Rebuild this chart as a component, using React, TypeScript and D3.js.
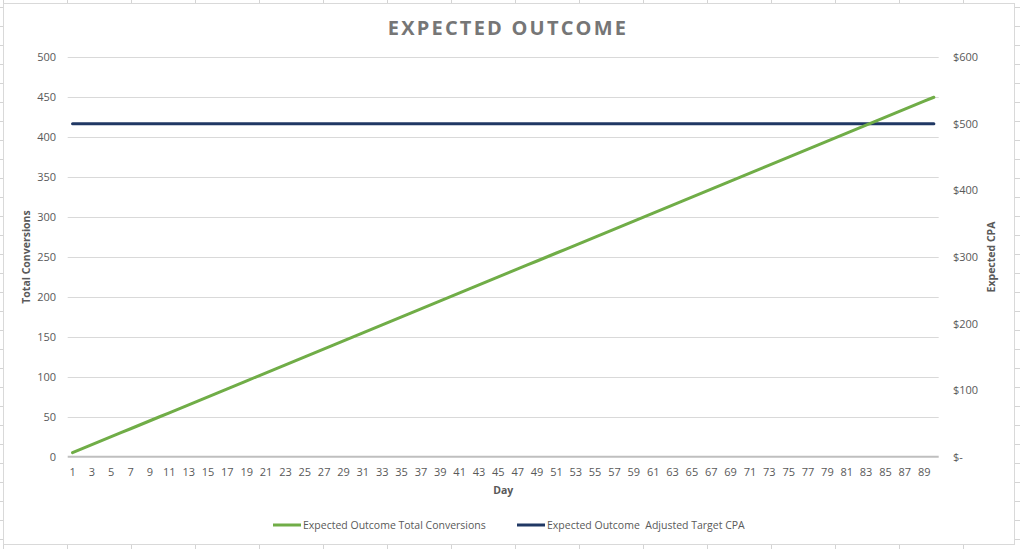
import * as d3 from "d3";
import { useRef, useEffect } from "react";

// Tage 1..90
const days = [
  1, 2, 3, 4, 5, 6, 7, 8, 9, 10, 11, 12, 13, 14, 15, 16, 17, 18, 19, 20,
  21, 22, 23, 24, 25, 26, 27, 28, 29, 30, 31, 32, 33, 34, 35, 36, 37, 38, 39, 40,
  41, 42, 43, 44, 45, 46, 47, 48, 49, 50, 51, 52, 53, 54, 55, 56, 57, 58, 59, 60,
  61, 62, 63, 64, 65, 66, 67, 68, 69, 70, 71, 72, 73, 74, 75, 76, 77, 78, 79, 80,
  81, 82, 83, 84, 85, 86, 87, 88, 89, 90,
];

const totalConversions = [
  5, 10, 15, 20, 25, 30, 35, 40, 45, 50, 55, 60, 65, 70, 75, 80, 85, 90, 95, 100,
  105, 110, 115, 120, 125, 130, 135, 140, 145, 150, 155, 160, 165, 170, 175, 180, 185, 190, 195, 200,
  205, 210, 215, 220, 225, 230, 235, 240, 245, 250, 255, 260, 265, 270, 275, 280, 285, 290, 295, 300,
  305, 310, 315, 320, 325, 330, 335, 340, 345, 350, 355, 360, 365, 370, 375, 380, 385, 390, 395, 400,
  405, 410, 415, 420, 425, 430, 435, 440, 445, 450,
];

const targetCpa = [
  500, 500, 500, 500, 500, 500, 500, 500, 500, 500, 500, 500, 500, 500, 500, 500, 500, 500, 500, 500,
  500, 500, 500, 500, 500, 500, 500, 500, 500, 500, 500, 500, 500, 500, 500, 500, 500, 500, 500, 500,
  500, 500, 500, 500, 500, 500, 500, 500, 500, 500, 500, 500, 500, 500, 500, 500, 500, 500, 500, 500,
  500, 500, 500, 500, 500, 500, 500, 500, 500, 500, 500, 500, 500, 500, 500, 500, 500, 500, 500, 500,
  500, 500, 500, 500, 500, 500, 500, 500, 500, 500,
];

const leftTicks = [0, 50, 100, 150, 200, 250, 300, 350, 400, 450, 500];
const rightTicks = [0, 100, 200, 300, 400, 500, 600];
const seriesNames = ["Expected Outcome Total Conversions", "Expected Outcome  Adjusted Target CPA"];

export default function App() {
  const svgRef = useRef<SVGSVGElement | null>(null);

  useEffect(() => {
    if (!svgRef.current) return;
    const W = 1020, H = 549;
    const font = "'Open Sans', sans-serif";
    const textCol = "#595959";

    const svg = d3.select(svgRef.current);
    svg.selectAll("*").remove();
    svg.attr("width", W).attr("height", H).style("font-family", font);

    // Excel-Zellraster im Hintergrund
    const bg = svg.append("g").attr("stroke", "#d4d4d4").attr("stroke-width", 1);
    for (let x = 3.5; x < W; x += 64) bg.append("line").attr("x1", x).attr("x2", x).attr("y1", 0).attr("y2", H);
    for (let y = 7.5; y < H; y += 19) bg.append("line").attr("x1", 0).attr("x2", W).attr("y1", y).attr("y2", y);

    // Diagrammfläche
    svg.append("rect")
      .attr("x", 3.5).attr("y", 3.5).attr("width", 1011).attr("height", 541)
      .attr("fill", "#fff").attr("stroke", "#d9d9d9");

    const plot = { left: 67.7, right: 938.7, top: 57.3, bottom: 456.7 };

    const x = d3.scaleBand<number>().domain(days).range([plot.left, plot.right]);
    const yL = d3.scaleLinear().domain([0, 500]).range([plot.bottom, plot.top]);
    const yR = d3.scaleLinear().domain([0, 600]).range([plot.bottom, plot.top]);
    const cx = (d: number) => (x(d) ?? 0) + x.bandwidth() / 2;

    // Gitterlinien
    svg.append("g").selectAll("line").data(leftTicks.slice(1)).join("line")
      .attr("x1", plot.left).attr("x2", plot.right)
      .attr("y1", d => Math.round(yL(d)) + 0.5).attr("y2", d => Math.round(yL(d)) + 0.5)
      .attr("stroke", "#d9d9d9").attr("stroke-width", 1);

    // X-Achse
    svg.append("line")
      .attr("x1", plot.left).attr("x2", plot.right)
      .attr("y1", plot.bottom).attr("y2", plot.bottom)
      .attr("stroke", "#bfbfbf").attr("stroke-width", 2);

    svg.append("g").selectAll("text").data(days.filter((_, i) => i % 2 === 0)).join("text")
      .attr("x", d => cx(d)).attr("y", 476)
      .attr("text-anchor", "middle").attr("font-size", 11).attr("fill", textCol)
      .text(d => d);

    // Y-Achsen Beschriftung
    svg.append("g").selectAll("text").data(leftTicks).join("text")
      .attr("x", 56).attr("y", d => yL(d) + 4)
      .attr("text-anchor", "end").attr("font-size", 11).attr("fill", textCol)
      .text(d => d);

    svg.append("g").selectAll("text").data(rightTicks).join("text")
      .attr("x", 953).attr("y", d => yR(d) + 4)
      .attr("text-anchor", "start").attr("font-size", 11).attr("fill", textCol)
      .text(d => (d === 0 ? "$-" : d3.format("$,")(d)));

    // Achsentitel
    svg.append("text")
      .attr("transform", `translate(30,${(plot.top + plot.bottom) / 2}) rotate(-90)`)
      .attr("text-anchor", "middle").attr("font-size", 10.5).attr("font-weight", "bold").attr("fill", textCol)
      .text("Total Conversions");
    svg.append("text")
      .attr("transform", `translate(995,${(plot.top + plot.bottom) / 2}) rotate(-90)`)
      .attr("text-anchor", "middle").attr("font-size", 10.5).attr("font-weight", "bold").attr("fill", textCol)
      .text("Expected CPA");
    svg.append("text")
      .attr("x", (plot.left + plot.right) / 2).attr("y", 494)
      .attr("text-anchor", "middle").attr("font-size", 10.5).attr("font-weight", "bold").attr("fill", textCol)
      .text("Day");

    // Titel
    svg.append("text")
      .attr("x", 508).attr("y", 35)
      .attr("text-anchor", "middle").attr("font-size", 20).attr("font-weight", "bold")
      .attr("letter-spacing", 2.2).attr("fill", "#767676")
      .text("EXPECTED OUTCOME");

    // Linien
    const lineL = d3.line<number>().x((_, i) => cx(days[i])).y(d => yL(d));
    const lineR = d3.line<number>().x((_, i) => cx(days[i])).y(d => yR(d));

    svg.append("path").datum(targetCpa)
      .attr("d", lineR).attr("fill", "none")
      .attr("stroke", "#203864").attr("stroke-width", 3).attr("stroke-linecap", "round");
    svg.append("path").datum(totalConversions)
      .attr("d", lineL).attr("fill", "none")
      .attr("stroke", "#70ad47").attr("stroke-width", 3).attr("stroke-linecap", "round");

    // Legende
    const legend = [
      { name: seriesNames[0], color: "#70ad47", x: 273 },
      { name: seriesNames[1], color: "#203864", x: 517 },
    ];
    const lg = svg.append("g").selectAll("g").data(legend).join("g")
      .attr("transform", d => `translate(${d.x},525)`);
    lg.append("line").attr("x1", 0).attr("x2", 28).attr("y1", 0).attr("y2", 0)
      .attr("stroke", d => d.color).attr("stroke-width", 3);
    lg.append("text").attr("x", 30).attr("y", 4)
      .attr("font-size", 10.5).attr("fill", textCol)
      .attr("xml:space", "preserve")
      .style("white-space", "pre")
      .text(d => d.name);
  }, []);

  return (
    <svg ref={svgRef} style={{ position: "absolute", left: 0, top: 0, display: "block" }}></svg>
  );
}
